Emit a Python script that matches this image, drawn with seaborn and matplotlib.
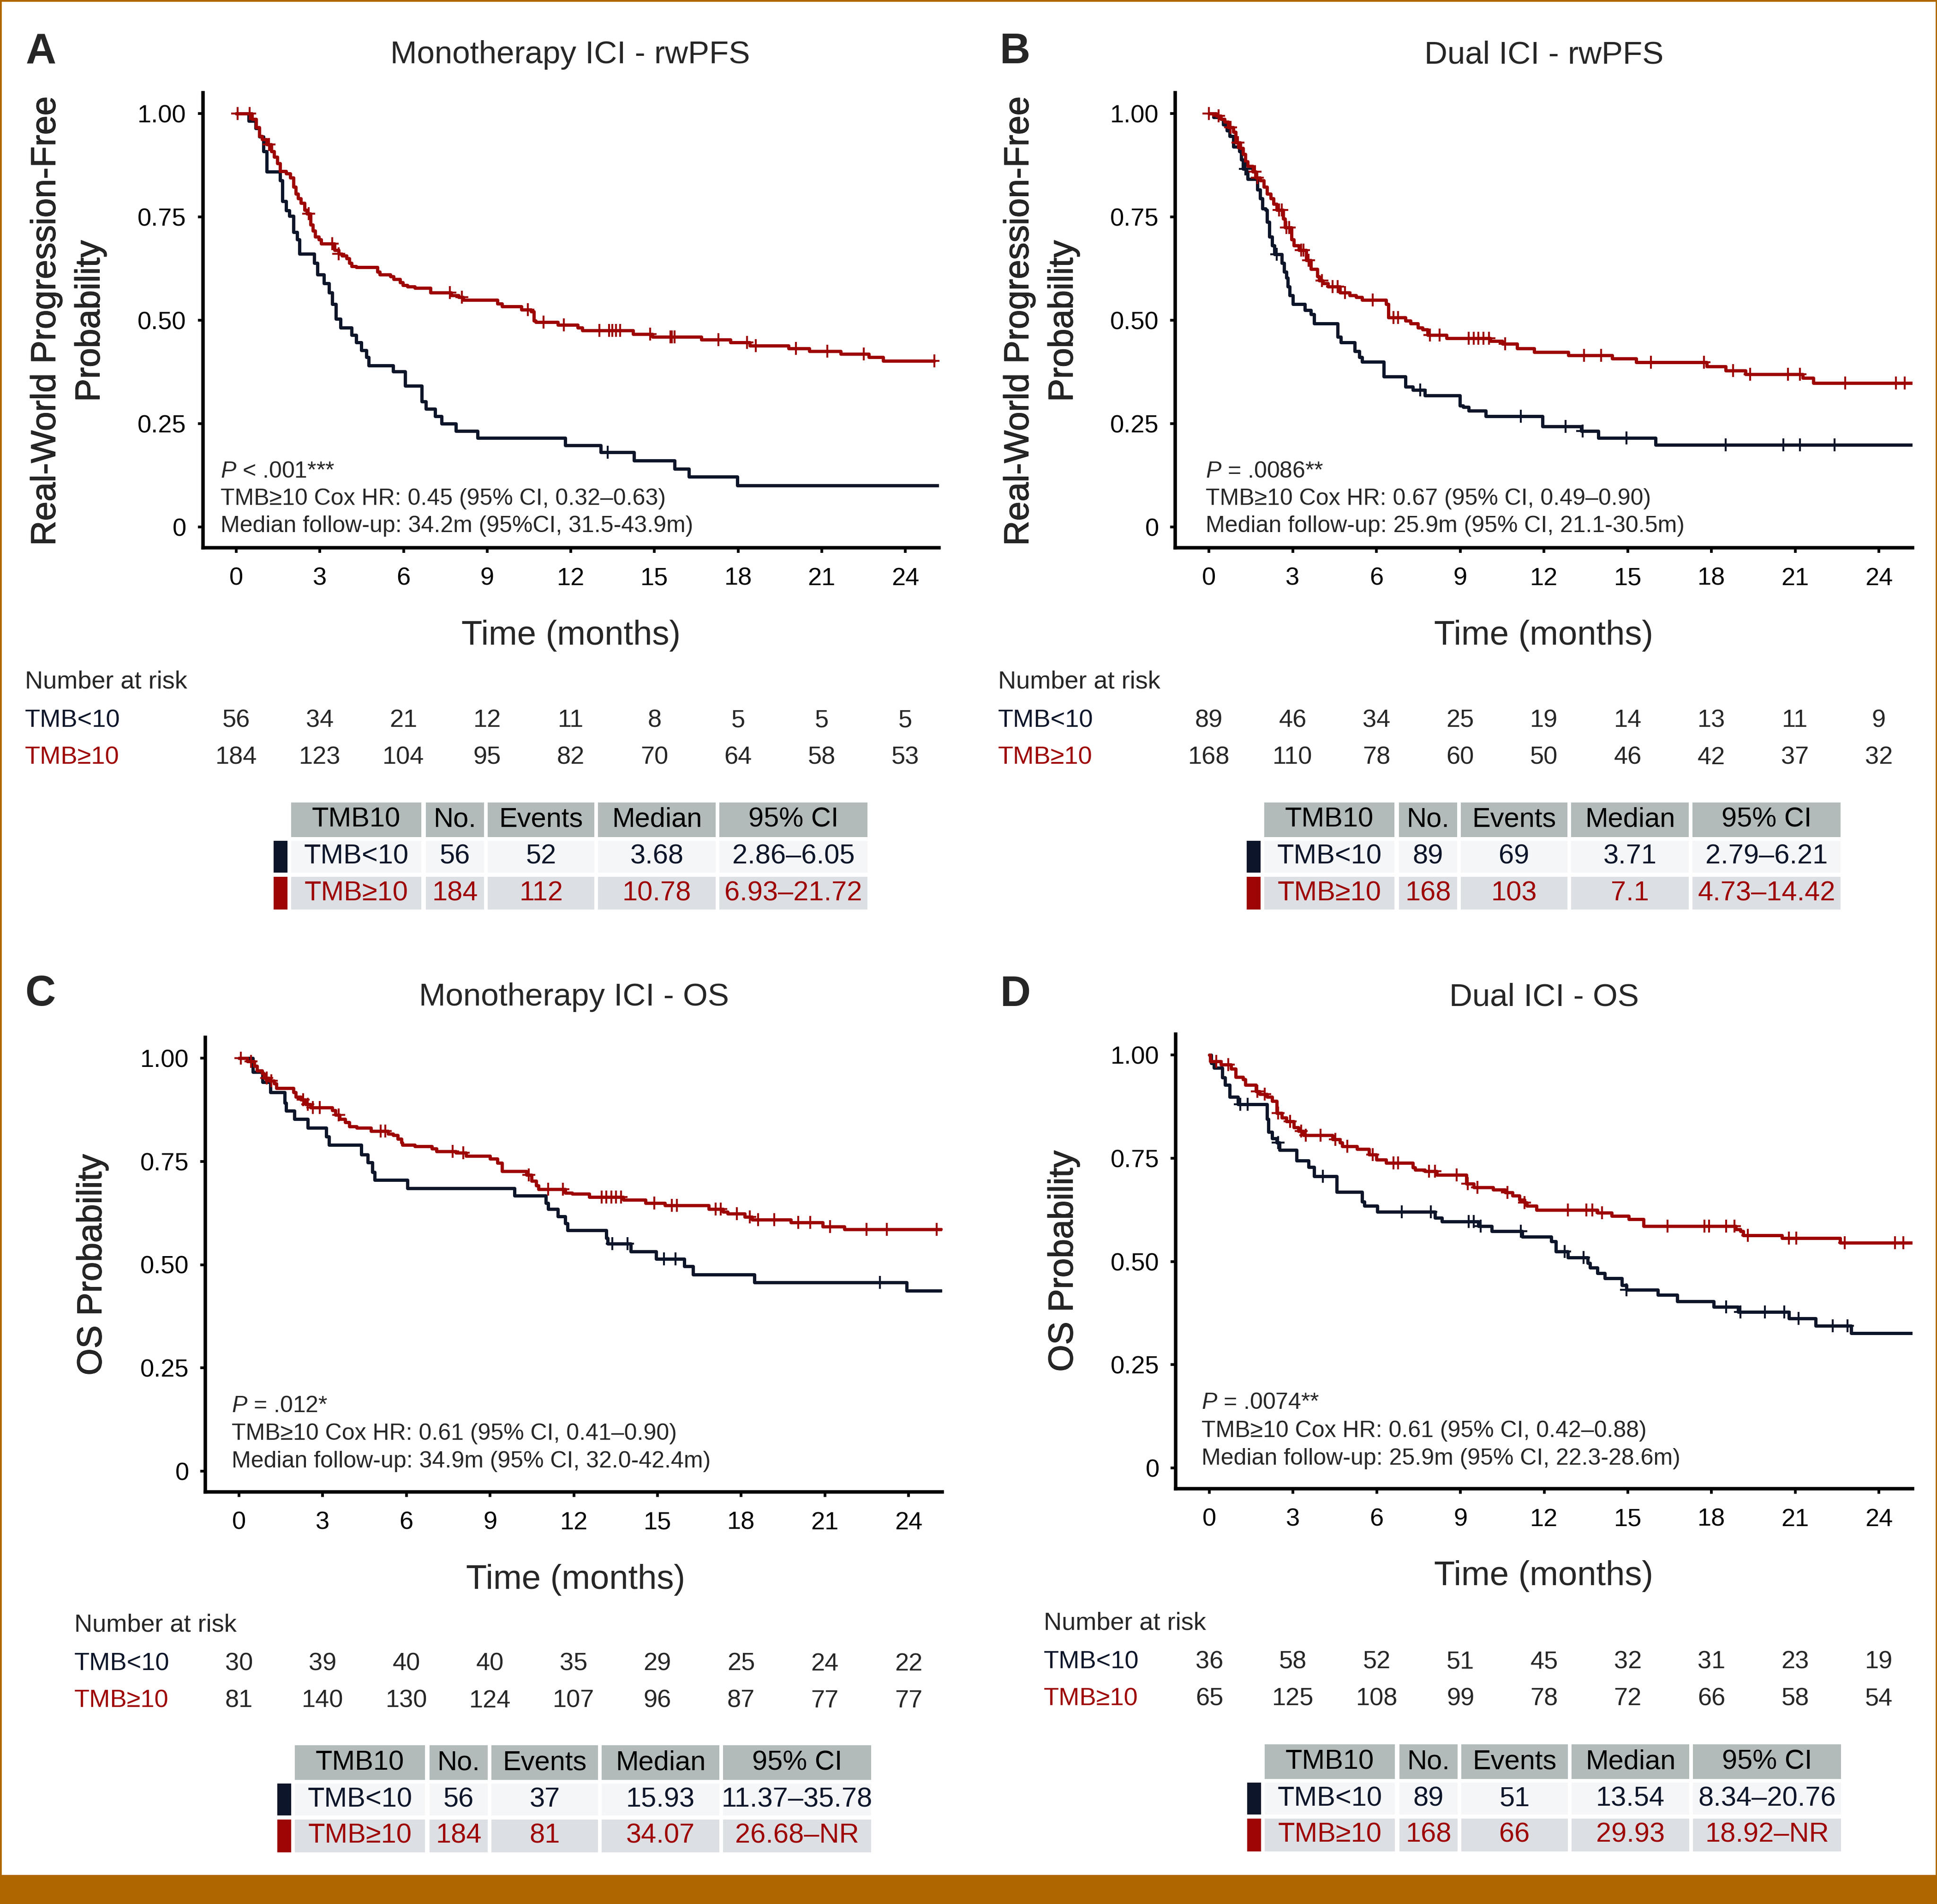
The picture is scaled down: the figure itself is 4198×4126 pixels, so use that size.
import numpy as np
import pandas as pd
import matplotlib
matplotlib.use("Agg")
import matplotlib.pyplot as plt
import matplotlib.transforms as mtransforms
import matplotlib.patheffects as pe
from matplotlib.patches import Rectangle
import seaborn as sns

# KAPLAN-MEIER CURVES (time in months, survival after each step), censor times
# A: Monotherapy ICI - rwPFS
a_lo_t = [0, 0.45, 0.70, 0.83, 0.97, 1.09, 1.58, 1.66, 1.79, 1.91, 2.05, 2.19, 2.27, 2.80, 2.92, 3.14, 3.32, 3.44, 3.58, 3.74,
          4.14, 4.31, 4.49, 4.66, 4.75, 5.62, 6.05, 6.66, 6.80, 7.13, 7.36, 7.88, 8.66, 11.80, 13.07, 14.27, 15.72, 16.24, 17.98, 25.2]
a_lo_s = [1, 0.982, 0.964, 0.944, 0.909, 0.859, 0.838, 0.788, 0.766, 0.752, 0.713, 0.695, 0.661, 0.638, 0.610, 0.589, 0.567, 0.539, 0.503, 0.482,
          0.464, 0.446, 0.428, 0.411, 0.391, 0.376, 0.341, 0.304, 0.286, 0.268, 0.250, 0.232, 0.215, 0.197, 0.181, 0.161, 0.141, 0.122, 0.101, 0.101]
a_lo_c = [13.33]
a_hi_t = [0, 0.57, 0.71, 0.83, 0.92, 1.09, 1.26, 1.35, 1.47, 1.58, 1.79, 1.93, 2.05, 2.13, 2.22, 2.31, 2.45, 2.53, 2.66, 2.74,
          2.83, 2.97, 3.04, 3.53, 3.67, 3.79, 3.96, 4.05, 4.14, 4.31, 5.06, 5.15, 5.53, 5.65, 5.88, 5.97, 6.14, 6.40, 6.96, 7.71,
          7.97, 8.14, 9.36, 9.54, 10.23, 10.58, 10.67, 10.75, 11.54, 12.24, 12.41, 14.24, 14.93, 16.68, 17.72, 18.42, 19.81, 20.56,
          21.68, 22.69, 23.21, 25.04]
a_hi_s = [1, 0.987, 0.966, 0.945, 0.937, 0.925, 0.909, 0.895, 0.880, 0.860, 0.855, 0.845, 0.823, 0.806, 0.795, 0.784, 0.767, 0.758, 0.731, 0.717,
          0.702, 0.695, 0.685, 0.670, 0.661, 0.656, 0.649, 0.638, 0.631, 0.628, 0.617, 0.610, 0.606, 0.599, 0.592, 0.585, 0.581, 0.578, 0.567, 0.560,
          0.556, 0.549, 0.540, 0.533, 0.526, 0.521, 0.499, 0.496, 0.489, 0.482, 0.475, 0.466, 0.460, 0.453, 0.446, 0.439, 0.432, 0.425,
          0.419, 0.411, 0.402, 0.402]
a_hi_c = [0.05, 0.48, 1.18, 2.60, 3.44, 3.67, 7.66, 8.09, 10.46, 11.02, 11.75, 13.02, 13.37, 13.49, 13.63, 13.77, 14.85, 15.58,
          15.63, 15.72, 17.29, 18.33, 18.64, 20.07, 21.20, 22.51, 25.04]

# B: Dual ICI - rwPFS
b_lo_t = [0, 0.17, 0.43, 0.52, 0.64, 0.75, 0.87, 1.09, 1.16, 1.22, 1.34, 1.39, 1.74, 1.83, 1.91, 2.03, 2.09, 2.17, 2.26, 2.35,
          2.61, 2.70, 2.78, 2.83, 2.90, 3.01, 3.43, 3.65, 3.77, 4.61, 4.73, 5.22, 5.39, 5.48, 6.26, 7.04, 7.30, 7.74, 8.99, 9.10,
          9.31, 9.91, 11.95, 13.34, 13.95, 16.00, 25.2]
b_lo_s = [1, 0.991, 0.987, 0.973, 0.959, 0.945, 0.920, 0.909, 0.888, 0.866, 0.859, 0.841, 0.816, 0.795, 0.770, 0.767, 0.738, 0.702, 0.681, 0.660,
          0.638, 0.617, 0.603, 0.581, 0.560, 0.539, 0.524, 0.514, 0.492, 0.460, 0.446, 0.425, 0.411, 0.400, 0.364, 0.339, 0.331, 0.318, 0.293, 0.290,
          0.281, 0.268, 0.243, 0.232, 0.215, 0.199, 0.199]
b_lo_c = [1.30, 2.43, 7.57, 11.18, 12.78, 13.39, 14.96, 18.52, 20.58, 21.17, 22.42]
b_hi_t = [0, 0.26, 0.43, 0.57, 0.70, 0.87, 0.96, 1.13, 1.22, 1.30, 1.39, 1.57, 1.69, 1.83, 1.97, 2.09, 2.21, 2.31, 2.43, 2.66,
          2.73, 2.96, 3.04, 3.22, 3.48, 3.65, 3.88, 3.95, 4.09, 4.26, 4.70, 5.04, 5.27, 5.48, 6.35, 6.43, 7.04, 7.22, 7.48, 7.65,
          7.83, 8.52, 10.09, 10.52, 11.04, 11.65, 12.87, 14.44, 15.31, 17.83, 18.52, 19.22, 21.27, 21.66, 25.2]
b_hi_s = [1, 0.994, 0.987, 0.980, 0.966, 0.955, 0.930, 0.916, 0.902, 0.884, 0.873, 0.859, 0.845, 0.838, 0.823, 0.806, 0.795, 0.781, 0.767, 0.745,
          0.724, 0.695, 0.681, 0.670, 0.645, 0.624, 0.606, 0.596, 0.589, 0.581, 0.567, 0.560, 0.556, 0.549, 0.539, 0.507, 0.499, 0.492, 0.482, 0.478,
          0.464, 0.457, 0.450, 0.443, 0.432, 0.423, 0.415, 0.407, 0.398, 0.388, 0.378, 0.369, 0.361, 0.348, 0.348]
b_hi_c = [0.0, 0.35, 0.78, 1.04, 1.65, 1.74, 2.52, 2.61, 2.78, 2.87, 3.30, 3.39, 3.57, 4.05, 4.43, 4.61, 4.87, 5.86, 6.61, 6.78,
          7.91, 8.26, 9.30, 9.48, 9.65, 9.83, 10.03, 10.61, 13.43, 14.05, 15.83, 17.74, 18.78, 19.39, 20.75, 21.17, 22.79, 24.61, 24.92]

# C: Monotherapy ICI - OS
c_lo_t = [0, 0.50, 0.85, 1.13, 1.63, 1.69, 1.98, 2.47, 3.13, 3.22, 4.38, 4.61, 4.78, 4.87, 6.04, 9.87, 11.00, 11.08, 11.43, 11.69,
          11.78, 13.17, 13.21, 14.04, 14.95, 15.96, 16.27, 18.48, 23.93, 25.18]
c_lo_s = [1, 0.966, 0.942, 0.917, 0.892, 0.873, 0.853, 0.831, 0.810, 0.790, 0.767, 0.747, 0.724, 0.705, 0.685, 0.667, 0.649, 0.635, 0.617, 0.600,
          0.583, 0.564, 0.551, 0.532, 0.514, 0.496, 0.476, 0.457, 0.437, 0.437]
c_lo_c = [13.38, 13.92, 15.23, 15.64, 22.97]
c_hi_t = [0, 0.29, 0.55, 0.64, 0.82, 0.90, 1.08, 1.25, 1.34, 1.95, 2.03, 2.21, 2.38, 2.56, 3.34, 3.46, 3.60, 3.81, 3.95, 4.21,
          4.73, 5.34, 5.52, 5.69, 5.83, 5.86, 6.30, 6.91, 7.08, 7.78, 8.13, 8.99, 9.26, 9.43, 10.30, 10.48, 10.65, 10.74, 11.69, 11.95,
          12.56, 13.78, 14.57, 15.26, 16.83, 17.35, 17.52, 18.13, 18.39, 19.79, 20.92, 21.70, 25.18]
c_hi_s = [1, 0.992, 0.981, 0.970, 0.963, 0.952, 0.945, 0.938, 0.927, 0.917, 0.906, 0.899, 0.888, 0.881, 0.874, 0.863, 0.853, 0.845, 0.835, 0.831,
          0.824, 0.817, 0.813, 0.804, 0.796, 0.790, 0.787, 0.781, 0.774, 0.771, 0.763, 0.756, 0.746, 0.726, 0.717, 0.703, 0.692, 0.683, 0.674, 0.671,
          0.664, 0.657, 0.649, 0.644, 0.635, 0.628, 0.623, 0.616, 0.609, 0.602, 0.592, 0.585, 0.585]
c_hi_c = [0.07, 0.43, 0.99, 1.16, 2.30, 2.47, 2.64, 2.90, 3.57, 5.08, 5.25, 7.66, 8.04, 10.39, 11.08, 11.61, 13.00, 13.17, 13.35,
          13.52, 13.70, 14.88, 15.52, 15.70, 17.09, 17.26, 17.84, 18.31, 18.60, 19.18, 20.05, 20.48, 21.18, 22.49, 23.23, 25.01]

# D: Dual ICI - OS
d_lo_t = [0, 0.07, 0.16, 0.47, 0.56, 0.73, 1.03, 2.07, 2.12, 2.25, 2.42, 2.51, 3.12, 3.55, 3.76, 4.56, 5.47, 5.55, 6.02, 8.08,
          8.34, 9.64, 10.13, 11.21, 12.25, 12.43, 12.86, 13.56, 13.65, 13.91, 14.17, 14.78, 14.95, 16.08, 16.78, 18.08, 18.95, 20.78,
          21.74, 23.01, 25.22]
d_lo_s = [1, 0.980, 0.969, 0.945, 0.927, 0.898, 0.880, 0.845, 0.813, 0.798, 0.788, 0.770, 0.744, 0.729, 0.706, 0.668, 0.645, 0.635, 0.620, 0.606,
          0.597, 0.585, 0.573, 0.560, 0.549, 0.524, 0.510, 0.496, 0.485, 0.471, 0.459, 0.442, 0.431, 0.419, 0.403, 0.390, 0.378, 0.362,
          0.344, 0.326, 0.326]
d_lo_c = [1.11, 1.38, 2.47, 4.07, 6.89, 7.94, 9.30, 9.47, 9.73, 11.17, 12.74, 13.42, 14.95, 18.52, 19.04, 19.91, 20.61, 21.13, 22.35, 22.87]
d_hi_t = [0, 0.04, 0.42, 0.77, 0.94, 1.20, 1.29, 1.67, 1.81, 2.07, 2.25, 2.42, 2.59, 2.77, 3.03, 3.20, 3.38, 4.42, 4.68, 4.77,
          5.29, 5.73, 5.99, 6.34, 7.29, 7.38, 7.73, 8.16, 9.21, 9.47, 10.17, 10.60, 10.86, 11.12, 11.30, 11.38, 11.73, 13.91, 14.43, 15.04,
          15.56, 18.87, 19.04, 19.13, 20.52, 22.61, 25.22]
d_hi_s = [1, 0.984, 0.977, 0.966, 0.946, 0.941, 0.927, 0.912, 0.905, 0.898, 0.888, 0.859, 0.848, 0.839, 0.825, 0.816, 0.806, 0.796, 0.788, 0.779,
          0.772, 0.759, 0.746, 0.738, 0.727, 0.722, 0.718, 0.709, 0.688, 0.679, 0.674, 0.667, 0.659, 0.649, 0.642, 0.635, 0.625, 0.618, 0.610, 0.602,
          0.585, 0.578, 0.573, 0.563, 0.556, 0.545, 0.545]
d_hi_c = [0.24, 0.68, 1.72, 1.98, 2.47, 2.89, 3.29, 3.46, 3.99, 4.51, 4.94, 5.85, 6.60, 6.77, 7.87, 8.08, 8.86, 9.26, 9.61, 10.69,
          11.30, 12.86, 13.51, 13.73, 14.08, 16.43, 17.74, 17.91, 18.52, 18.83, 19.30, 20.78, 21.04, 22.78, 24.58, 24.87]

# NUMBER AT RISK
risk_times = [0, 3, 6, 9, 12, 15, 18, 21, 24]
a_risk_lo = [56, 34, 21, 12, 11, 8, 5, 5, 5]
a_risk_hi = [184, 123, 104, 95, 82, 70, 64, 58, 53]
b_risk_lo = [89, 46, 34, 25, 19, 14, 13, 11, 9]
b_risk_hi = [168, 110, 78, 60, 50, 46, 42, 37, 32]
c_risk_lo = [30, 39, 40, 40, 35, 29, 25, 24, 22]
c_risk_hi = [81, 140, 130, 124, 107, 96, 87, 77, 77]
d_risk_lo = [36, 58, 52, 51, 45, 32, 31, 23, 19]
d_risk_hi = [65, 125, 108, 99, 78, 72, 66, 58, 54]

# SUMMARY TABLES
table_head = ["TMB10", "No.", "Events", "Median", "95% CI"]
a_tab_lo = ["TMB<10", "56", "52", "3.68", "2.86–6.05"]
a_tab_hi = ["TMB≥10", "184", "112", "10.78", "6.93–21.72"]
b_tab_lo = ["TMB<10", "89", "69", "3.71", "2.79–6.21"]
b_tab_hi = ["TMB≥10", "168", "103", "7.1", "4.73–14.42"]
c_tab_lo = ["TMB<10", "56", "37", "15.93", "11.37–35.78"]
c_tab_hi = ["TMB≥10", "184", "81", "34.07", "26.68–NR"]
d_tab_lo = ["TMB<10", "89", "51", "13.54", "8.34–20.76"]
d_tab_hi = ["TMB≥10", "168", "66", "29.93", "18.92–NR"]

# TEXTS
letters = ["A", "B", "C", "D"]
titles = ["Monotherapy ICI - rwPFS", "Dual ICI - rwPFS", "Monotherapy ICI - OS", "Dual ICI - OS"]
ylabels = [["Real-World Progression-Free", "Probability"], ["Real-World Progression-Free", "Probability"],
           ["OS Probability"], ["OS Probability"]]
p_texts = [r"$\mathit{P}$ < .001***", r"$\mathit{P}$ = .0086**", r"$\mathit{P}$ = .012*", r"$\mathit{P}$ = .0074**"]
hr_texts = ["TMB≥10 Cox HR: 0.45 (95% CI, 0.32–0.63)", "TMB≥10 Cox HR: 0.67 (95% CI, 0.49–0.90)",
            "TMB≥10 Cox HR: 0.61 (95% CI, 0.41–0.90)", "TMB≥10 Cox HR: 0.61 (95% CI, 0.42–0.88)"]
fu_texts = ["Median follow-up: 34.2m (95%CI, 31.5-43.9m)", "Median follow-up: 25.9m (95% CI, 21.1-30.5m)",
            "Median follow-up: 34.9m (95% CI, 32.0-42.4m)", "Median follow-up: 25.9m (95% CI, 22.3-28.6m)"]

# STYLE
W, H = 4198, 4126
NAVY = "#0c1529"
RED = "#9e0505"
GOLD = "#b06600"
HEAD_BG = "#b2baba"
ROW1_BG = "#f5f6f8"
ROW2_BG = "#dcdfe4"
XLIM = (-1.2, 25.2)
YLIM = (-0.05, 1.05)

sns.set_theme(style="ticks")
plt.rcParams["font.family"] = ["Liberation Sans", "DejaVu Sans"]
plt.rcParams["mathtext.fontset"] = "custom"
plt.rcParams["mathtext.rm"] = "Liberation Sans"
plt.rcParams["mathtext.it"] = "Liberation Sans:italic"

fig = plt.figure(figsize=(W / 300, H / 300), dpi=300, facecolor="white")
bg = fig.add_axes([0, 0, 1, 1])
bg.set_xlim(0, W)
bg.set_ylim(H, 0)
bg.axis("off")

# gold frame
bg.add_patch(Rectangle((0, 0), W, H, fill=False, edgecolor=GOLD, linewidth=1.6, clip_on=False))
bg.add_patch(Rectangle((0, 4063), W, H - 4063, facecolor=GOLD, edgecolor="none"))

# layout (pixels): t=0 x, t=24 x, S=1 y, S=0 y
layout = [
    dict(x0=512, x24=1962, y1=246, y0=1142, title=(1236, 137), letter=(56, 137), ylab_x=(100, 196), ylab_y=696,
         xlab=(1237, 1378), ann_x=478, ann_y=(1035, 1094, 1153), risk_x=54, risk_y=(1477, 1561, 1642), tdx=0, tdy=0),
    dict(x0=2620, x24=4072, y1=246, y0=1142, title=(3346, 137), letter=(2167, 137), ylab_x=(2209, 2305), ylab_y=696,
         xlab=(3346, 1378), ann_x=2613, ann_y=(1035, 1094, 1153), risk_x=2163, risk_y=(1477, 1561, 1642), tdx=2109, tdy=0),
    dict(x0=518, x24=1969, y1=2293, y0=3188, title=(1244, 2179), letter=(54, 2179), ylab_x=(200,), ylab_y=2741,
         xlab=(1247, 3424), ann_x=502, ann_y=(3060, 3120, 3180), risk_x=161, risk_y=(3522, 3606, 3686), tdx=8, tdy=2043),
    dict(x0=2621, x24=4072, y1=2286, y0=3181, title=(3346, 2179), letter=(2168, 2180), ylab_x=(2305,), ylab_y=2733,
         xlab=(3346, 3416), ann_x=2604, ann_y=(3053, 3114, 3174), risk_x=2262, risk_y=(3517, 3601, 3681), tdx=2110, tdy=2041),
]

curves = [
    (a_lo_t, a_lo_s, a_lo_c, a_hi_t, a_hi_s, a_hi_c),
    (b_lo_t, b_lo_s, b_lo_c, b_hi_t, b_hi_s, b_hi_c),
    (c_lo_t, c_lo_s, c_lo_c, c_hi_t, c_hi_s, c_hi_c),
    (d_lo_t, d_lo_s, d_lo_c, d_hi_t, d_hi_s, d_hi_c),
]
risks = [(a_risk_lo, a_risk_hi), (b_risk_lo, b_risk_hi), (c_risk_lo, c_risk_hi), (d_risk_lo, d_risk_hi)]
tables = [(a_tab_lo, a_tab_hi), (b_tab_lo, b_tab_hi), (c_tab_lo, c_tab_hi), (d_tab_lo, d_tab_hi)]

# table geometry of panel A (pixels), shifted for the others
col_x = [(631, 913), (923, 1049), (1057, 1288), (1296, 1551), (1559, 1880)]
bar_x = (593, 623)
row_y = [(1739, 1814), (1822, 1891), (1900, 1971)]

ylab_fx = [pe.withStroke(linewidth=0.3, foreground="black")]


def km_axes(L):
    ppm = (L["x24"] - L["x0"]) / 24.0
    ppu = L["y0"] - L["y1"]
    left = L["x0"] + XLIM[0] * ppm
    right = L["x0"] + XLIM[1] * ppm
    top = L["y0"] - YLIM[1] * ppu
    bottom = L["y0"] - YLIM[0] * ppu
    ax = fig.add_axes([left / W, 1 - bottom / H, (right - left) / W, (bottom - top) / H])
    ax.set_facecolor("none")
    ax.set_xlim(*XLIM)
    ax.set_ylim(*YLIM)
    return ax


for i, L in enumerate(layout):
    ax = km_axes(L)
    lo_t, lo_s, lo_c, hi_t, hi_s, hi_c = curves[i]
    for t, s, c, col in ((lo_t, lo_s, lo_c, NAVY), (hi_t, hi_s, hi_c, RED)):
        df = pd.DataFrame({"time": t, "surv": s})
        sns.lineplot(data=df, x="time", y="surv", drawstyle="steps-post", color=col, linewidth=1.7,
                     solid_joinstyle="round", estimator=None, sort=False, ax=ax)
        idx = np.searchsorted(np.asarray(t), np.asarray(c), side="right") - 1
        cs = np.asarray(s)[idx]
        sns.scatterplot(x=c, y=cs, marker="+", s=44, color=col, linewidth=1.0, ax=ax, zorder=3)

    ax.set_xticks(risk_times)
    ax.set_yticks([0, 0.25, 0.5, 0.75, 1.0])
    ax.set_yticklabels(["0", "0.25", "0.50", "0.75", "1.00"])
    ax.set_xlabel("")
    ax.set_ylabel("")
    ax.spines[["top", "right"]].set_visible(False)
    for sp in ("left", "bottom"):
        ax.spines[sp].set_linewidth(1.8)
        ax.spines[sp].set_color("black")
        ax.spines[sp].set_capstyle("projecting")
    ax.tick_params(axis="both", length=2.6, width=1.4, colors="black", labelsize=13)
    ax.tick_params(axis="x", pad=7.5)
    ax.tick_params(axis="y", pad=6)

    # headings and labels
    bg.text(*L["letter"], letters[i], fontsize=22, fontweight="bold", ha="left", va="baseline")
    bg.text(*L["title"], titles[i], fontsize=16.6, ha="center", va="baseline")
    for lx, ltxt in zip(L["ylab_x"], ylabels[i]):
        bg.text(lx, L["ylab_y"], ltxt, fontsize=18, rotation=90, ha="center", va="center", path_effects=ylab_fx)
    bg.text(*L["xlab"], "Time (months)", fontsize=17.8, ha="center", va="center")

    # statistics inside the plot
    for ty, txt in zip(L["ann_y"], (p_texts[i], hr_texts[i], fu_texts[i])):
        bg.text(L["ann_x"], ty, txt, fontsize=12, ha="left", va="baseline")

    # number at risk
    trans = mtransforms.blended_transform_factory(ax.transData, bg.transData)
    ry = L["risk_y"]
    bg.text(L["risk_x"], ry[0], "Number at risk", fontsize=13, ha="left", va="center")
    bg.text(L["risk_x"], ry[1], "TMB<10", fontsize=13, color=NAVY, ha="left", va="center")
    bg.text(L["risk_x"], ry[2], "TMB≥10", fontsize=13, color=RED, ha="left", va="center")
    for tt, n_lo, n_hi in zip(risk_times, *risks[i]):
        ax.text(tt, ry[1], str(n_lo), transform=trans, fontsize=13, ha="center", va="center", clip_on=False)
        ax.text(tt, ry[2], str(n_hi), transform=trans, fontsize=13, ha="center", va="center", clip_on=False)

    # summary table
    dx, dy = L["tdx"], L["tdy"]
    rows = [table_head, tables[i][0], tables[i][1]]
    fills = [HEAD_BG, ROW1_BG, ROW2_BG]
    tcols = ["black", NAVY, RED]
    for r, (y_a, y_b) in enumerate(row_y):
        if r > 0:
            bg.add_patch(Rectangle((bar_x[0] + dx, y_a + dy), bar_x[1] - bar_x[0], y_b - y_a,
                                   facecolor=tcols[r], edgecolor="none"))
        for c, (x_a, x_b) in enumerate(col_x):
            bg.add_patch(Rectangle((x_a + dx, y_a + dy), x_b - x_a, y_b - y_a, facecolor=fills[r], edgecolor="none"))
            bg.text((x_a + x_b) / 2 + dx, (y_a + y_b) / 2 + dy, rows[r][c], fontsize=14.3, color=tcols[r],
                    ha="center", va="center")

fig.savefig("out.png", dpi=300, facecolor="white")
